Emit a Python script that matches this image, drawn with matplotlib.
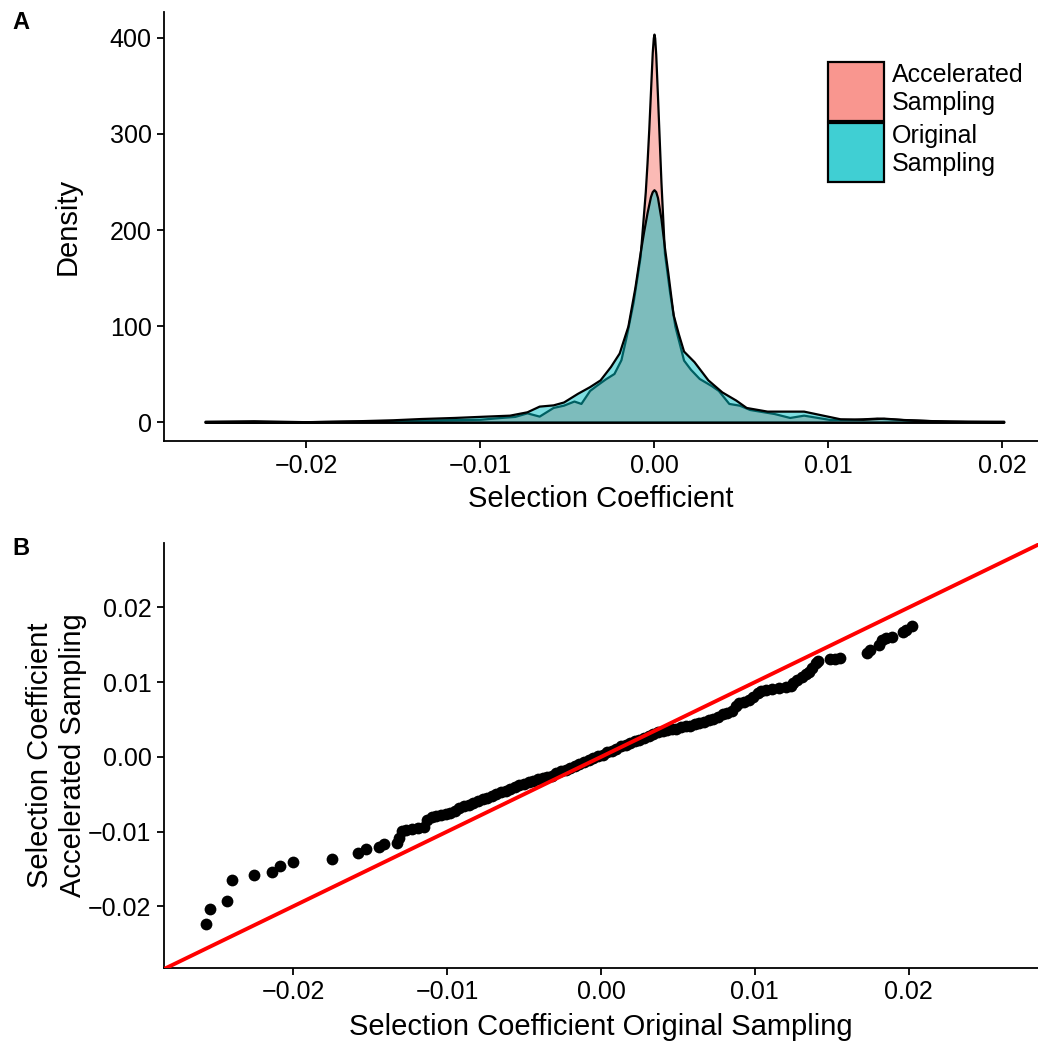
import matplotlib
matplotlib.use("Agg")
import matplotlib.pyplot as plt
from matplotlib.patches import Patch

plt.rcParams['font.family'] = ['Liberation Sans', 'DejaVu Sans']

# panel A: density curves
acc_x = [-0.0258, -0.0200, -0.0150, -0.0120, -0.0100, -0.0088, -0.0080, -0.0073, -0.0066,
         -0.0058, -0.0052, -0.0046, -0.0042, -0.0037, -0.0033, -0.0028, -0.0023, -0.0019,
         -0.0016, -0.0012, -0.0008, -0.0005, -0.0004, -0.0003, -0.0002, -0.0001, -0.00004,
         0.0, 0.00004, 0.0001, 0.0002, 0.0003, 0.0004, 0.0006, 0.0009, 0.0012, 0.0017,
         0.0021, 0.0026, 0.0033, 0.0037, 0.0043, 0.0049, 0.0055, 0.0069, 0.0078, 0.0086,
         0.0101, 0.0115, 0.0128, 0.0145, 0.0170, 0.0201]
acc_y = [0.5, 0.5, 1.5, 2.5, 3.0, 4.9, 6.0, 9.7, 6.3,
         15.3, 17.7, 22.0, 19.5, 33.0, 38.5, 45.0, 50.7, 65.0,
         89.0, 125.0, 172.0, 240.0, 270.0, 305.0, 345.0, 385.0, 400.0,
         404.0, 400.0, 383.0, 340.0, 295.0, 250.0, 176.0, 135.0, 100.0, 64.6,
         55.0, 45.5, 38.0, 33.0, 19.5, 17.7, 13.2, 9.0, 4.9, 7.3,
         2.8, 3.0, 4.2, 2.5, 1.0, 0.5]

orig_x = [-0.0258, -0.0230, -0.0200, -0.0170, -0.0150, -0.0134, -0.0115, -0.0098, -0.0083,
          -0.0073, -0.0066, -0.0058, -0.0052, -0.0044, -0.0037, -0.0031, -0.0025, -0.0020,
          -0.0015, -0.0011, -0.0008, -0.0006, -0.0004, -0.0002, -0.0001, 0.0, 0.0001,
          0.0002, 0.0004, 0.0006, 0.0008, 0.0011, 0.0014, 0.0017, 0.0023, 0.0031, 0.0039,
          0.0047, 0.0053, 0.0065, 0.0074, 0.0086, 0.0097, 0.0107, 0.0120, 0.0132, 0.0143,
          0.0160, 0.0180, 0.0201]
orig_y = [1.0, 1.5, 0.5, 1.5, 2.5, 3.8, 4.9, 6.2, 7.3,
          10.8, 16.7, 18.0, 21.0, 30.0, 37.0, 44.0, 58.0, 72.0,
          100.0, 140.0, 176.0, 198.0, 218.0, 235.0, 240.0, 242.0, 240.0,
          234.0, 212.0, 182.0, 155.0, 112.0, 92.0, 74.0, 63.0, 44.0, 31.5,
          23.0, 15.3, 11.5, 11.5, 11.5, 7.3, 3.5, 3.0, 4.2, 2.8,
          1.5, 1.0, 1.0]

# panel B: quantile pairs (original, accelerated)
qq_x = [-0.02570, -0.02544, -0.02429, -0.02397, -0.02257, -0.02140, -0.02086, -0.02000,
        -0.01746, -0.01579, -0.01530, -0.01443, -0.01411, -0.01329, -0.01314, -0.01293,
        -0.01270, -0.01228, -0.01190, -0.01152,
        -0.0113, -0.0110, -0.0107, -0.0104, -0.0101, -0.0098, -0.0095, -0.0092, -0.0089,
        -0.0086, -0.0083, -0.0080, -0.0077, -0.0074, -0.0071, -0.0068, -0.0065, -0.0062,
        -0.0059, -0.0056, -0.0053, -0.0050, -0.0047, -0.0044, -0.0041, -0.0038, -0.0035,
        -0.0032, -0.0029, -0.0026, -0.0023, -0.0020, -0.0017, -0.0014, -0.0011, -0.0008,
        -0.0005, -0.0002, 0.0001, 0.0004, 0.0007, 0.0010, 0.0013, 0.0016, 0.0019, 0.0022,
        0.0025, 0.0028, 0.0031, 0.0034, 0.0037, 0.0040, 0.0043, 0.0046, 0.0049, 0.0052,
        0.0055, 0.0058, 0.0061, 0.0064, 0.0067, 0.0070, 0.0073, 0.0076, 0.0079, 0.0082,
        0.0085, 0.0088, 0.0090, 0.0093, 0.0096, 0.0099, 0.0102, 0.0104, 0.0107,
        0.01113, 0.01157, 0.01200, 0.01232, 0.01250, 0.01275, 0.01307, 0.01330, 0.01351,
        0.01370, 0.01394, 0.01410, 0.01491, 0.01520, 0.01556, 0.01728, 0.01746, 0.01804,
        0.01825, 0.01854, 0.01890, 0.01960, 0.01985, 0.02018]
qq_y = [-0.02236, -0.02039, -0.01928, -0.01647, -0.01575, -0.01544, -0.01455, -0.01410,
        -0.01370, -0.01290, -0.01236, -0.01209, -0.01169, -0.01147, -0.01089, -0.00987,
        -0.00975, -0.00968, -0.00955, -0.00941,
        -0.0084, -0.0081, -0.0079, -0.0078, -0.0077, -0.0075, -0.0072, -0.0069, -0.0066,
        -0.0064, -0.0062, -0.0059, -0.0057, -0.0055, -0.0053, -0.0050, -0.0047, -0.0045,
        -0.0043, -0.0040, -0.0038, -0.0036, -0.0034, -0.0032, -0.0030, -0.0028, -0.0027,
        -0.0025, -0.0022, -0.0019, -0.0017, -0.0015, -0.0012, -0.0009, -0.0007, -0.0004,
        -0.0001, 0.0001, 0.0003, 0.0006, 0.0008, 0.0011, 0.0014, 0.0016, 0.0019, 0.0021,
        0.0023, 0.0025, 0.0028, 0.0031, 0.0033, 0.0034, 0.0036, 0.0037, 0.0038, 0.0040,
        0.0041, 0.0042, 0.0044, 0.0045, 0.0047, 0.0049, 0.0051, 0.0054, 0.0057, 0.0059,
        0.0062, 0.0068, 0.0072, 0.0074, 0.0076, 0.0080, 0.0085, 0.0088, 0.0089,
        0.00906, 0.00919, 0.00940, 0.00950, 0.00990, 0.01031, 0.01075, 0.01110, 0.01142,
        0.01190, 0.01254, 0.01290, 0.01310, 0.01315, 0.01321, 0.01392, 0.01432, 0.01499,
        0.01566, 0.01593, 0.01610, 0.01677, 0.01700, 0.01750]

tick_labels = ['\u22120.02', '\u22120.01', '0.00', '0.01', '0.02']
tick_fs = 18
label_fs = 21

fig = plt.figure(figsize=(10.38, 10.43), dpi=100)
ax1 = fig.add_axes([0.158, 0.577, 0.842, 0.4115])
ax2 = fig.add_axes([0.158, 0.072, 0.842, 0.4075])

# --- panel A
ax1.fill_between(acc_x, acc_y, 0, facecolor=(0.973, 0.463, 0.427, 0.5), edgecolor='black', linewidth=1.6)
ax1.fill_between(orig_x, orig_y, 0, facecolor=(0.0, 0.749, 0.769, 0.5), edgecolor='black', linewidth=1.6)
ax1.set_xlim(-0.02816, 0.02207)
ax1.set_ylim(-19.8, 427)
ax1.set_xticks([-0.02, -0.01, 0.0, 0.01, 0.02])
ax1.set_xticklabels(tick_labels)
ax1.set_yticks([0, 100, 200, 300, 400])
ax1.set_xlabel('Selection Coefficient', fontsize=label_fs, labelpad=5)
ax1.set_ylabel('Density', fontsize=label_fs, labelpad=20)

handles = [Patch(facecolor='#F9968F', edgecolor='black', linewidth=1.6, label='Accelerated\nSampling'),
           Patch(facecolor='#40CFD3', edgecolor='black', linewidth=1.6, label='Original\nSampling')]
fig.legend(handles=handles, loc='upper left', bbox_to_anchor=(828 / 1038, 1 - 62 / 1043),
           frameon=False, fontsize=tick_fs, handlelength=2.25, handleheight=3.25,
           labelspacing=0.08, handletextpad=0.3, borderpad=0, borderaxespad=0)

# --- panel B
lim = (-0.0284, 0.0284)
ax2.scatter(qq_x, qq_y, s=72, color='black', linewidths=0, zorder=2)
ax2.plot(lim, lim, color='red', linewidth=2.8, zorder=3)
ax2.set_xlim(lim)
ax2.set_ylim(-0.02825, 0.02865)
ax2.set_xticks([-0.02, -0.01, 0.0, 0.01, 0.02])
ax2.set_xticklabels(tick_labels)
ax2.set_yticks([-0.02, -0.01, 0.0, 0.01, 0.02])
ax2.set_yticklabels(tick_labels)
ax2.set_xlabel('Selection Coefficient Original Sampling', fontsize=label_fs, labelpad=6)
ax2.set_ylabel('Selection Coefficient\nAccelerated Sampling', fontsize=label_fs, labelpad=1,
               linespacing=1.2)

for ax in (ax1, ax2):
    for side in ('top', 'right'):
        ax.spines[side].set_visible(False)
    for side in ('left', 'bottom'):
        ax.spines[side].set_linewidth(1.3)
    ax.tick_params(labelsize=tick_fs, length=5, width=1.3, pad=4, colors='black')

fig.text(0.012, 0.978, 'A', fontsize=17, fontweight='bold', va='center')
fig.text(0.012, 0.474, 'B', fontsize=17, fontweight='bold', va='center')

fig.savefig('out.png', dpi=100)
